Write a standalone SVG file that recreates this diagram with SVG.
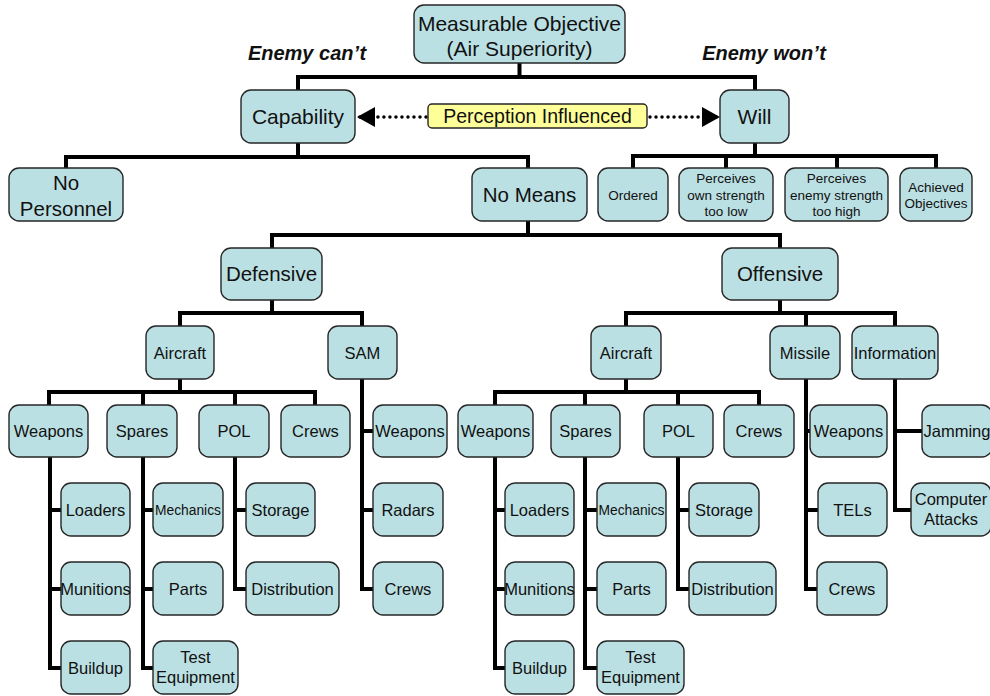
<svg xmlns="http://www.w3.org/2000/svg" width="990" height="696" viewBox="0 0 990 696">
  <defs>
    <style>
      .bg { fill: #ffffff; }
      .node rect { fill: #BBE0E3; stroke: #262626; stroke-width: 1.4; }
      .note rect { fill: #FFFF99; stroke: #262626; stroke-width: 1.4; }
      text { font-family: "Liberation Sans", Arial, sans-serif; text-anchor: middle; fill: #111111; }
      .t21 { font-size: 21px; }
      .t20 { font-size: 20.5px; }
      .t19 { font-size: 19.5px; }
      .t16 { font-size: 16.5px; }
      .t14 { font-size: 13.8px; }
      .t13 { font-size: 13.5px; }
      .side { font-size: 20px; font-style: italic; font-weight: bold; }
      .tree { fill: none; stroke: #000000; stroke-width: 4; stroke-linejoin: miter; stroke-linecap: butt; }
      .dots { fill: none; stroke: #000000; stroke-width: 3.5; stroke-linecap: round; stroke-dasharray: 0.01 6; }
    </style>
    <marker id="arrow" markerUnits="userSpaceOnUse" markerWidth="20" markerHeight="22" refX="18" refY="10" orient="auto">
      <path d="M0 0 L18 10 L0 20 Z" fill="#000000"/>
    </marker>
  </defs>

  <rect class="bg" x="0" y="0" width="990" height="696"/>

  <!-- side captions -->
  <text class="side" x="307" y="60">Enemy can’t</text>
  <text class="side" x="764" y="60">Enemy won’t</text>

  <!-- tree connectors -->
  <g id="connectors">
    <path class="tree" d="M298 90 V77 H755 V90 M519.5 63 V77"/>
    <path class="tree" d="M66 168 V157 H528 V168 M298 143 V157"/>
    <path class="tree" d="M633 168 V156 H936 V168 M726 156 V168 M837 156 V168 M755 143 V156"/>
    <path class="tree" d="M272 248 V235 H780 V248 M528 221 V235"/>
    <path class="tree" d="M180 326 V313 H362 V326 M272 300 V313"/>
    <path class="tree" d="M626 326 V313 H895 V326 M806 313 V326 M780 300 V313"/>
    <path class="tree" d="M49 405 V392 H315 V405 M143 392 V405 M235 392 V405 M180 379 V392"/>
    <path class="tree" d="M495 405 V392 H759 V405 M585 392 V405 M678 392 V405 M626 379 V392"/>
    <path class="tree" d="M50 457 V668 H61 M50 510 H61 M50 589 H61"/>
    <path class="tree" d="M143 457 V668 H153 M143 510 H153 M143 589 H153"/>
    <path class="tree" d="M235 457 V589 H246 M235 510 H246"/>
    <path class="tree" d="M362 379 V589 H373 M362 431 H373 M362 510 H373"/>
    <path class="tree" d="M495 457 V668 H505 M495 510 H505 M495 589 H505"/>
    <path class="tree" d="M585 457 V668 H597 M585 510 H597 M585 589 H597"/>
    <path class="tree" d="M678 457 V589 H689 M678 510 H689"/>
    <path class="tree" d="M806 379 V589 H817 M806 431 H810 M806 510 H818"/>
    <path class="tree" d="M895 379 V510 H911 M895 431 H922"/>
    <!-- perception links, dotted with solid heads -->
    <path class="dots" d="M426 117 H357" marker-end="url(#arrow)"/>
    <path class="dots" d="M650 117 H720" marker-end="url(#arrow)"/>
  </g>

  <!-- level 0 -->
  <g id="objective" class="node">
    <rect x="414" y="5" width="211" height="58" rx="10"/>
    <text class="t21" x="519.5" y="30.5">Measurable Objective</text>
    <text class="t21" x="519.5" y="55.5">(Air Superiority)</text>
  </g>

  <!-- level 1 -->
  <g id="capability" class="node">
    <rect x="241" y="90" width="114" height="53" rx="10"/>
    <text class="t21" x="298" y="124">Capability</text>
  </g>
  <g id="will" class="node">
    <rect x="720" y="90" width="69" height="53" rx="10"/>
    <text class="t21" x="754.5" y="124">Will</text>
  </g>
  <g id="perception" class="note">
    <rect x="428" y="104" width="219" height="24" rx="4"/>
    <text class="t19" x="537.5" y="123">Perception Influenced</text>
  </g>

  <!-- capability branch -->
  <g id="no-personnel" class="node">
    <rect x="9" y="168" width="114" height="53" rx="10"/>
    <text class="t20" x="66" y="190">No</text>
    <text class="t20" x="66" y="216">Personnel</text>
  </g>
  <g id="no-means" class="node">
    <rect x="472" y="168" width="115" height="53" rx="10"/>
    <text class="t20" x="529.5" y="202">No Means</text>
  </g>

  <!-- will branch -->
  <g id="ordered" class="node">
    <rect x="598" y="168" width="70" height="53" rx="10"/>
    <text class="t13" x="633" y="200">Ordered</text>
  </g>
  <g id="own-strength" class="node">
    <rect x="679" y="168" width="94" height="53" rx="10"/>
    <text class="t13" x="726" y="183">Perceives</text>
    <text class="t13" x="726" y="199.5">own strength</text>
    <text class="t13" x="726" y="216">too low</text>
  </g>
  <g id="enemy-strength" class="node">
    <rect x="785" y="168" width="103" height="53" rx="10"/>
    <text class="t13" x="836.5" y="183">Perceives</text>
    <text class="t13" x="836.5" y="199.5">enemy strength</text>
    <text class="t13" x="836.5" y="216">too high</text>
  </g>
  <g id="achieved" class="node">
    <rect x="900" y="168" width="72" height="53" rx="10"/>
    <text class="t13" x="936" y="192">Achieved</text>
    <text class="t13" x="936" y="208">Objectives</text>
  </g>

  <!-- means -->
  <g id="defensive" class="node">
    <rect x="221" y="248" width="101" height="52" rx="10"/>
    <text class="t20" x="271.5" y="281">Defensive</text>
  </g>
  <g id="offensive" class="node">
    <rect x="722" y="248" width="116" height="52" rx="10"/>
    <text class="t20" x="780" y="281">Offensive</text>
  </g>

  <!-- defensive systems -->
  <g id="def-aircraft" class="node">
    <rect x="146" y="326" width="68" height="53" rx="10"/>
    <text class="t16" x="180" y="358.5">Aircraft</text>
  </g>
  <g id="def-sam" class="node">
    <rect x="328" y="326" width="69" height="53" rx="10"/>
    <text class="t16" x="362.5" y="358.5">SAM</text>
  </g>

  <g id="def-weapons" class="node">
    <rect x="9" y="405" width="79" height="52" rx="10"/>
    <text class="t16" x="48.5" y="437">Weapons</text>
  </g>
  <g id="def-spares" class="node">
    <rect x="107" y="405" width="70" height="52" rx="10"/>
    <text class="t16" x="142" y="437">Spares</text>
  </g>
  <g id="def-pol" class="node">
    <rect x="199" y="405" width="70" height="52" rx="10"/>
    <text class="t16" x="234" y="437">POL</text>
  </g>
  <g id="def-crews" class="node">
    <rect x="281" y="405" width="69" height="52" rx="10"/>
    <text class="t16" x="315.5" y="437">Crews</text>
  </g>

  <g id="def-loaders" class="node">
    <rect x="61" y="483" width="69" height="53" rx="10"/>
    <text class="t16" x="95.5" y="515.5">Loaders</text>
  </g>
  <g id="def-munitions" class="node">
    <rect x="61" y="562" width="69" height="53" rx="10"/>
    <text class="t16" x="95.5" y="594.5">Munitions</text>
  </g>
  <g id="def-buildup" class="node">
    <rect x="61" y="641" width="69" height="53" rx="10"/>
    <text class="t16" x="95.5" y="673.5">Buildup</text>
  </g>
  <g id="def-mechanics" class="node">
    <rect x="153" y="483" width="70" height="53" rx="10"/>
    <text class="t14" x="188" y="514.5">Mechanics</text>
  </g>
  <g id="def-parts" class="node">
    <rect x="153" y="562" width="70" height="53" rx="10"/>
    <text class="t16" x="188" y="594.5">Parts</text>
  </g>
  <g id="def-test-equipment" class="node">
    <rect x="153" y="641" width="85" height="53" rx="10"/>
    <text class="t16" x="195.5" y="663">Test</text>
    <text class="t16" x="195.5" y="683">Equipment</text>
  </g>
  <g id="def-storage" class="node">
    <rect x="246" y="483" width="69" height="53" rx="10"/>
    <text class="t16" x="280.5" y="515.5">Storage</text>
  </g>
  <g id="def-distribution" class="node">
    <rect x="246" y="562" width="93" height="53" rx="10"/>
    <text class="t16" x="292.5" y="594.5">Distribution</text>
  </g>

  <g id="sam-weapons" class="node">
    <rect x="373" y="405" width="74" height="52" rx="10"/>
    <text class="t16" x="410" y="437">Weapons</text>
  </g>
  <g id="sam-radars" class="node">
    <rect x="373" y="483" width="70" height="53" rx="10"/>
    <text class="t16" x="408" y="515.5">Radars</text>
  </g>
  <g id="sam-crews" class="node">
    <rect x="373" y="562" width="70" height="53" rx="10"/>
    <text class="t16" x="408" y="594.5">Crews</text>
  </g>

  <!-- offensive systems -->
  <g id="off-aircraft" class="node">
    <rect x="591" y="326" width="70" height="53" rx="10"/>
    <text class="t16" x="626" y="358.5">Aircraft</text>
  </g>
  <g id="off-missile" class="node">
    <rect x="770" y="326" width="70" height="53" rx="10"/>
    <text class="t16" x="805" y="358.5">Missile</text>
  </g>
  <g id="off-information" class="node">
    <rect x="852" y="326" width="86" height="53" rx="10"/>
    <text class="t16" x="895" y="358.5">Information</text>
  </g>

  <g id="off-weapons" class="node">
    <rect x="458" y="405" width="75" height="52" rx="10"/>
    <text class="t16" x="495.5" y="437">Weapons</text>
  </g>
  <g id="off-spares" class="node">
    <rect x="551" y="405" width="69" height="52" rx="10"/>
    <text class="t16" x="585.5" y="437">Spares</text>
  </g>
  <g id="off-pol" class="node">
    <rect x="644" y="405" width="69" height="52" rx="10"/>
    <text class="t16" x="678.5" y="437">POL</text>
  </g>
  <g id="off-crews" class="node">
    <rect x="724" y="405" width="70" height="52" rx="10"/>
    <text class="t16" x="759" y="437">Crews</text>
  </g>

  <g id="off-loaders" class="node">
    <rect x="505" y="483" width="69" height="53" rx="10"/>
    <text class="t16" x="539.5" y="515.5">Loaders</text>
  </g>
  <g id="off-munitions" class="node">
    <rect x="505" y="562" width="69" height="53" rx="10"/>
    <text class="t16" x="539.5" y="594.5">Munitions</text>
  </g>
  <g id="off-buildup" class="node">
    <rect x="505" y="641" width="69" height="53" rx="10"/>
    <text class="t16" x="539.5" y="673.5">Buildup</text>
  </g>
  <g id="off-mechanics" class="node">
    <rect x="597" y="483" width="69" height="53" rx="10"/>
    <text class="t14" x="631.5" y="514.5">Mechanics</text>
  </g>
  <g id="off-parts" class="node">
    <rect x="597" y="562" width="69" height="53" rx="10"/>
    <text class="t16" x="631.5" y="594.5">Parts</text>
  </g>
  <g id="off-test-equipment" class="node">
    <rect x="597" y="641" width="87" height="53" rx="10"/>
    <text class="t16" x="640.5" y="663">Test</text>
    <text class="t16" x="640.5" y="683">Equipment</text>
  </g>
  <g id="off-storage" class="node">
    <rect x="689" y="483" width="70" height="53" rx="10"/>
    <text class="t16" x="724" y="515.5">Storage</text>
  </g>
  <g id="off-distribution" class="node">
    <rect x="689" y="562" width="87" height="53" rx="10"/>
    <text class="t16" x="732.5" y="594.5">Distribution</text>
  </g>

  <g id="missile-weapons" class="node">
    <rect x="810" y="405" width="77" height="52" rx="10"/>
    <text class="t16" x="848.5" y="437">Weapons</text>
  </g>
  <g id="missile-tels" class="node">
    <rect x="818" y="483" width="69" height="53" rx="10"/>
    <text class="t16" x="852.5" y="515.5">TELs</text>
  </g>
  <g id="missile-crews" class="node">
    <rect x="817" y="562" width="70" height="53" rx="10"/>
    <text class="t16" x="852" y="594.5">Crews</text>
  </g>

  <g id="info-jamming" class="node">
    <rect x="922" y="405" width="70" height="52" rx="10"/>
    <text class="t16" x="957" y="437">Jamming</text>
  </g>
  <g id="info-computer-attacks" class="node">
    <rect x="911" y="483" width="80" height="53" rx="10"/>
    <text class="t16" x="951" y="505">Computer</text>
    <text class="t16" x="951" y="525">Attacks</text>
  </g>
</svg>
